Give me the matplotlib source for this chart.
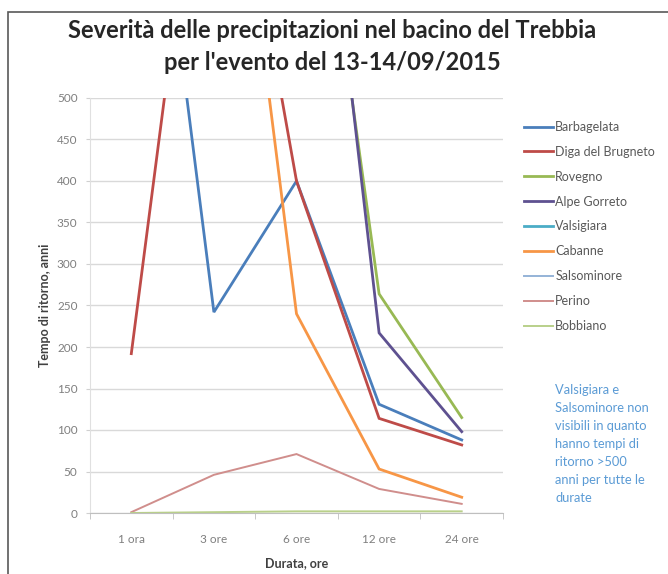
import numpy as np
import matplotlib
matplotlib.use("Agg")
import matplotlib.pyplot as plt
from matplotlib.patches import Rectangle

plt.rcParams['font.family'] = ['Lato', 'DejaVu Sans']

durations = ["1 ora", "3 ore", "6 ore", "12 ore", "24 ore"]

# tempi di ritorno (anni); valori > 500 escono dal grafico
barbagelata = [1030, 242, 400, 131, 88]
diga_brugneto = [192, 960, 400, 114, 82]
rovegno = [1000, 1000, 980, 264, 115]
alpe_gorreto = [1000, 1000, 1080, 217, 98]
valsigiara = [1000, 1000, 1000, 1000, 1000]
cabanne = [1000, 1030, 240, 53, 19]
salsominore = [1000, 1000, 1000, 1000, 1000]
perino = [1, 46, 71, 29, 11]
bobbiano = [0, 1, 2, 2, 2]

series = [
    ("Barbagelata", barbagelata, "#4A7EBB", 2.0),
    ("Diga del Brugneto", diga_brugneto, "#BE4B48", 2.0),
    ("Rovegno", rovegno, "#98B954", 2.0),
    ("Alpe Gorreto", alpe_gorreto, "#5E5190", 2.0),
    ("Valsigiara", valsigiara, "#4BACC6", 2.0),
    ("Cabanne", cabanne, "#F79646", 2.0),
    ("Salsominore", salsominore, "#95B3D7", 1.4),
    ("Perino", perino, "#D08E8C", 1.4),
    ("Bobbiano", bobbiano, "#B9D08A", 1.4),
]

note = ("Valsigiara e\nSalsominore non\nvisibili in quanto\nhanno tempi di\n"
        "ritorno >500\nanni per tutte le\ndurate")

fig = plt.figure(figsize=(6.68, 5.74), dpi=100)
ax = fig.add_axes([90 / 668, 1 - 513 / 574, 413 / 668, 415 / 574])

x = np.arange(len(durations))
for name, vals, color, lw in series:
    ax.plot(x, vals, color=color, lw=lw, label=name, solid_joinstyle='miter')

ax.set_xlim(-0.5, len(durations) - 0.5)
ax.set_ylim(0, 500)
ax.set_yticks(np.arange(0, 501, 50))
ax.set_xticks(x)
ax.set_xticklabels(durations)
ax.set_xticks(np.arange(-0.5, len(durations)), minor=True)
ax.tick_params(axis='x', which='major', length=0, pad=15, labelsize=8.5, labelcolor='#7f7f7f')
ax.tick_params(axis='x', which='minor', length=4, color='#bfbfbf')
ax.tick_params(axis='y', length=3, color='#d0d0d0', pad=6, labelsize=8.5, labelcolor='#7f7f7f')
ax.grid(axis='y', color='#d9d9d9', lw=1.0)
ax.set_axisbelow(True)
for s in ['top', 'right']:
    ax.spines[s].set_visible(False)
ax.spines['bottom'].set_color('#bfbfbf')
ax.spines['left'].set_color('#e0e0e0')

ax.set_xlabel("Durata, ore", fontsize=9, fontweight='bold', color='#404040', labelpad=9)
ax.set_ylabel("Tempo di ritorno, anni", fontsize=9, fontweight='bold', color='#404040', labelpad=4)

fig.text(332 / 668, 1 - 31 / 574, "Severità delle precipitazioni nel bacino del Trebbia",
         ha='center', va='center', fontsize=17, fontweight='bold', color='#262626')
fig.text(332 / 668, 1 - 63 / 574, "per l'evento del 13-14/09/2015",
         ha='center', va='center', fontsize=17, fontweight='bold', color='#262626')

leg = fig.legend(loc='upper left', bbox_to_anchor=(524 / 668, 1 - 121 / 574),
                 frameon=False, fontsize=9, handlelength=2.3, handletextpad=0.2,
                 labelspacing=1.03, borderpad=0, borderaxespad=0)
for t in leg.get_texts():
    t.set_color('#595959')

fig.text(555 / 668, 1 - 384 / 574, note, ha='left', va='top', fontsize=9.3,
         color='#5B9BD5', linespacing=1.6)

fig.patches.append(Rectangle((8 / 668, -0.1), 1.2, 1.1 - 12 / 574,
                             transform=fig.transFigure, fill=False,
                             edgecolor='#595959', lw=1.2))

fig.savefig("out.png", dpi=100)
